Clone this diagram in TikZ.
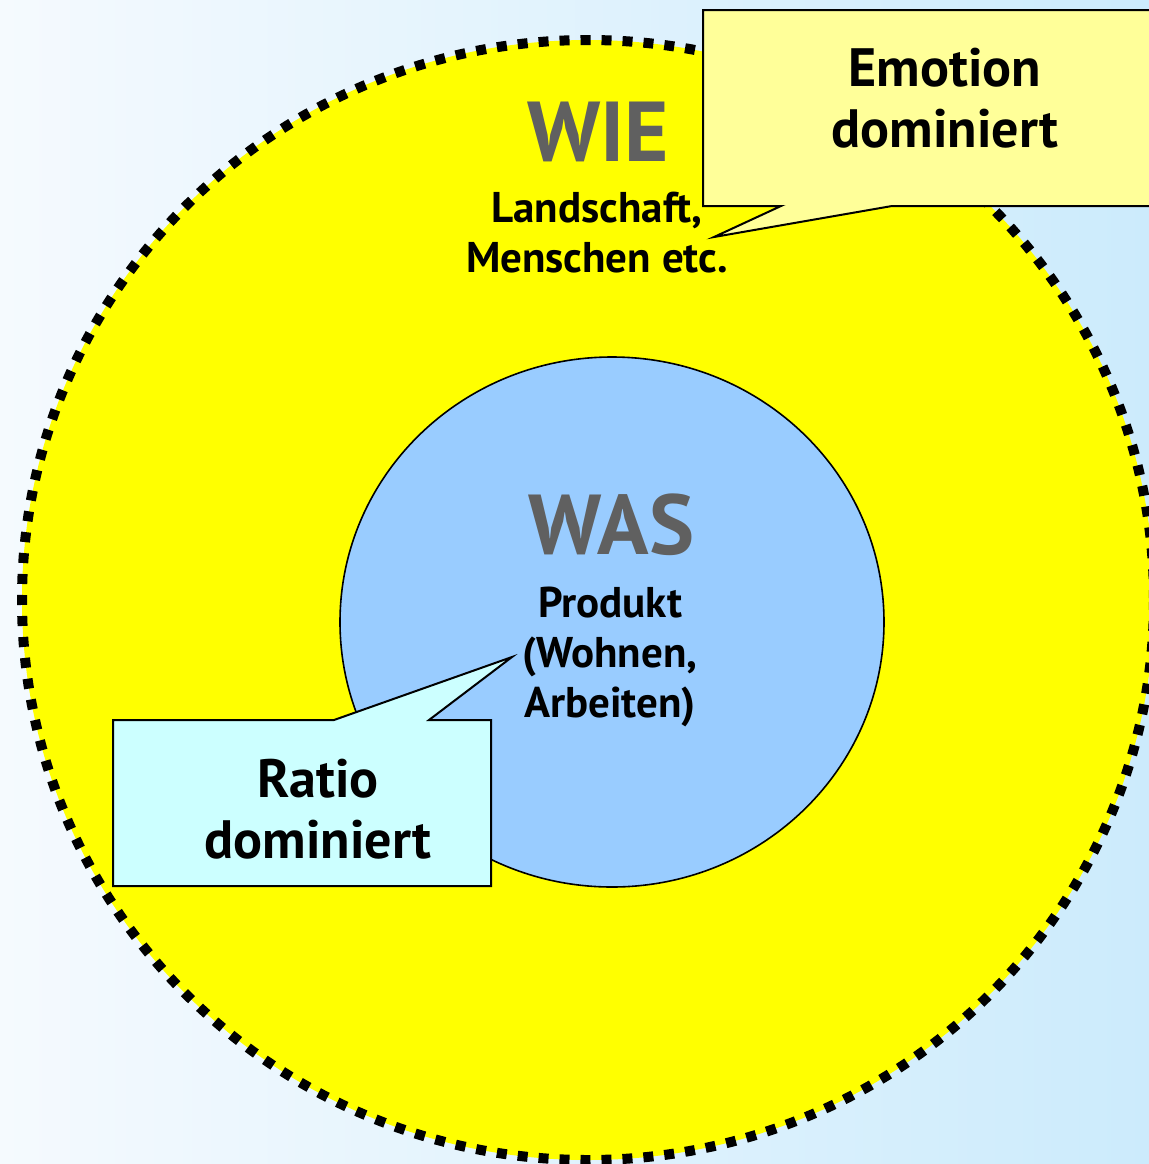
\documentclass[tikz,border=0pt]{standalone}
\usepackage{fontspec}
\setmainfont{PT Sans}
\definecolor{bgleft}{HTML}{F5FAFE}
\definecolor{bgright}{HTML}{CCEBFC}
\definecolor{wiefill}{HTML}{FFFF00}
\definecolor{wasfill}{HTML}{99CCFF}
\definecolor{emofill}{HTML}{FFFF99}
\definecolor{ratiofill}{HTML}{CCFFFF}
\definecolor{headgray}{HTML}{606060}
\begin{document}
\begin{tikzpicture}[x=0.5pt,y=-0.5pt,
  head/.style={text=headgray, font=\fontsize{42.5}{42.5}\selectfont\bfseries},
  small/.style={align=center, font=\fontsize{21.5}{25}\selectfont\bfseries},
  big/.style={align=center, font=\fontsize{27}{30.5}\selectfont\bfseries},
  callout/.style={draw=black, line width=1pt, line join=miter}]
\useasboundingbox (0,0) rectangle (1149,1164);
\begin{scope}
\clip (0,0) rectangle (1149,1164);
\shade[left color=bgleft, right color=bgright] (0,0) rectangle (1149,1164);

% WIE ring and WAS core
\draw[fill=wiefill, line width=5pt, dash pattern=on 5pt off 5.5pt] (588,600) ellipse [x radius=566, y radius=560];
\draw[fill=wasfill, line width=0.8pt] (612,622) ellipse [x radius=272, y radius=265];

\node[head] (wie) at (598,132) {WIE};
\node[small] (wietext) at (597,233) {Landschaft,\\Menschen etc.};
\node[head] (was) at (611,525) {WAS};
\node[small] (wastext) at (610,657) {Produkt\\(Wohnen,\\Arbeiten)};

% callouts
\coordinate (emotip) at (714,237);
\coordinate (ratiotip) at (512,657);
\draw[callout, fill=emofill] (703,10) -- (1170,10) -- (1170,206) -- (892,206) -- (emotip) -- (781,206) -- (703,206) -- cycle;
\node[big] (emotion) at (945,98) {Emotion\\dominiert};

\draw[callout, fill=ratiofill] (113,720) -- (334,720) -- (ratiotip) -- (429,720) -- (491,720) -- (491,886) -- (113,886) -- cycle;
\node[big] (ratio) at (318,809) {Ratio\\dominiert};
\end{scope}
\end{tikzpicture}
\end{document}
